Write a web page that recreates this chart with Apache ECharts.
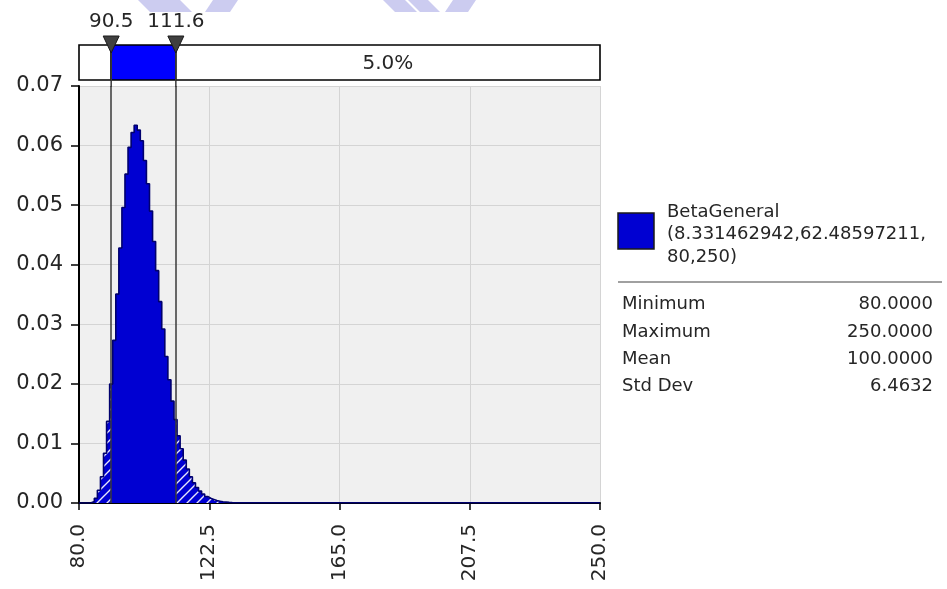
<!DOCTYPE html>
<html>
<head>
<meta charset="utf-8">
<style>
  html, body { margin: 0; padding: 0; background: #ffffff; }
  #chart { width: 947px; height: 589px; }
</style>
<script src="https://cdn.jsdelivr.net/npm/echarts@6/dist/echarts.min.js"></script>
</head>
<body>
<div id="chart"></div>
<script>
// ---------------- data ----------------
const binStarts = [80,81,82,83,84,85,86,87,88,89,90,91,92,93,94,95,96,97,98,99,100,
  101,102,103,104,105,106,107,108,109,110,111,112,113,114,115,116,117,118,119,120,
  121,122,123,124,125,126,127,128,129,130];
const density = [0,0,0,0.00005,0.00023,0.0008,0.00215,0.0044,0.00834,0.0137,0.01996,
  0.0273,0.03506,0.0428,0.0496,0.0552,0.0597,0.0622,0.0634,0.0626,0.0608,
  0.0575,0.0536,0.0490,0.0439,0.0390,0.0338,0.0292,0.0246,0.0207,0.0171,
  0.0140,0.0113,0.0091,0.0072,0.0057,0.0044,0.0034,0.0026,0.0020,0.0015,
  0.0011,0.0008,0.0006,0.0004,0.0003,0.0002,0.00015,0.0001,0.00007,0.00005];
const tailEnd = [250, 0];
const binWidth = 1;
const boundaries = [90.5, 111.6];
const segmentLabels = ['', '', '5.0%'];
const xMin = 80, xMax = 250, xInterval = 42.5;
const yMin = 0, yMax = 0.07, yInterval = 0.01;
const distName = 'BetaGeneral\n(8.331462942,62.48597211,\n80,250)';
const statNames = ['Minimum', 'Maximum', 'Mean', 'Std Dev'];
const statValues = ['80.0000', '250.0000', '100.0000', '6.4632'];

// ---------------- styling ----------------
const FONT = '"DejaVu Sans", Verdana, sans-serif';
const fillBlue = '#0000d2';
const barBlue = '#0000ff';
const outlineBlue = '#00006e';
const textColor = '#262626';

// hatch pattern for the tails
const pc = document.createElement('canvas');
pc.width = 10; pc.height = 10;
const pctx = pc.getContext('2d');
pctx.fillStyle = fillBlue;
pctx.fillRect(0, 0, 10, 10);
pctx.strokeStyle = 'rgba(255,255,255,0.9)';
pctx.lineWidth = 1.4;
pctx.beginPath();
pctx.moveTo(0, 10); pctx.lineTo(10, 0);
pctx.moveTo(-5, 5); pctx.lineTo(5, -5);
pctx.moveTo(5, 15); pctx.lineTo(15, 5);
pctx.stroke();
const hatch = { image: pc, repeat: 'repeat' };

const densityPoints = binStarts.map((x, i) => [x, density[i]]);
const outlinePoints = densityPoints.concat([tailEnd]);
const edges = [xMin].concat(boundaries, [xMax]);
const segments = [];
for (let i = 0; i < edges.length - 1; i++) segments.push([edges[i], edges[i + 1], i]);

const chart = echarts.init(document.getElementById('chart'), null, { renderer: 'canvas' });

const option = {
  backgroundColor: '#ffffff',
  animation: false,
  grid: [
    { left: 79, right: 347, top: 86, bottom: 86, show: true, backgroundColor: '#f0f0f0', borderWidth: 0 },
    { left: 79, right: 347, top: 45, height: 35 }
  ],
  xAxis: [
    {
      type: 'value', gridIndex: 0, min: xMin, max: xMax, interval: xInterval,
      axisLine: { show: true, onZero: false, lineStyle: { color: '#000', width: 2 } },
      axisTick: { show: true, length: 7, lineStyle: { color: '#000', width: 1.5 } },
      axisLabel: {
        rotate: 90, margin: 21, fontFamily: FONT, fontSize: 20, color: textColor,
        formatter: v => Number(v).toFixed(1)
      },
      splitLine: { show: true, lineStyle: { color: '#d4d4d4', width: 1 } }
    },
    { type: 'value', gridIndex: 1, min: xMin, max: xMax, show: false }
  ],
  yAxis: [
    {
      type: 'value', gridIndex: 0, min: yMin, max: yMax, interval: yInterval,
      axisLine: { show: true, onZero: false, lineStyle: { color: '#000', width: 2 } },
      axisTick: { show: true, length: 8, lineStyle: { color: '#000', width: 1.5 } },
      axisLabel: {
        margin: 16, fontFamily: FONT, fontSize: 21, color: textColor,
        formatter: v => Number(v).toFixed(2)
      },
      splitLine: { show: true, lineStyle: { color: '#d4d4d4', width: 1 } }
    },
    { type: 'value', gridIndex: 1, min: 0, max: 1, show: false }
  ],
  series: [
    {
      name: 'fill', type: 'custom', xAxisIndex: 0, yAxisIndex: 0, clip: true, z: 2,
      data: densityPoints,
      renderItem: function (params, api) {
        const x = api.value(0), v = api.value(1);
        const lo = x, hi = x + binWidth;
        const cuts = [lo].concat(boundaries.filter(b => b > lo && b < hi), [hi]);
        const children = [];
        for (let k = 0; k < cuts.length - 1; k++) {
          const a = cuts[k], b = cuts[k + 1];
          const mid = (a + b) / 2;
          const inside = mid >= boundaries[0] && mid <= boundaries[1];
          const p0 = api.coord([a, v]);
          const p1 = api.coord([b, 0]);
          const x0 = Math.round(p0[0]), x1 = Math.round(p1[0]);
          const y0 = Math.round(p0[1]), y1 = Math.round(p1[1]);
          children.push({
            type: 'rect',
            shape: { x: x0, y: y0, width: x1 - x0, height: y1 - y0 },
            style: { fill: inside ? fillBlue : hatch, stroke: null }
          });
        }
        return { type: 'group', children: children };
      }
    },
    {
      name: 'outline', type: 'line', xAxisIndex: 0, yAxisIndex: 0, z: 3,
      data: outlinePoints, step: 'end', symbol: 'none',
      lineStyle: { color: outlineBlue, width: 1.6 },
      markLine: {
        silent: true, symbol: ['none', 'none'], label: { show: false },
        lineStyle: { color: '#3a3a3a', width: 1.5, type: 'solid' },
        data: boundaries.map(b => ({ xAxis: b }))
      }
    },
    {
      name: 'rangeBar', type: 'custom', xAxisIndex: 1, yAxisIndex: 1, clip: false, z: 4,
      data: segments,
      renderItem: function (params, api) {
        const a = api.value(0), b = api.value(1), idx = api.value(2);
        const p0 = api.coord([a, 1]);
        const p1 = api.coord([b, 0]);
        const label = segmentLabels[idx];
        return {
          type: 'group',
          children: [
            {
              type: 'rect',
              shape: { x: p0[0], y: p0[1], width: p1[0] - p0[0], height: p1[1] - p0[1] },
              style: { fill: idx === 1 ? barBlue : '#ffffff', stroke: '#000', lineWidth: 1.6 }
            },
            {
              type: 'text',
              style: {
                text: label, x: (p0[0] + p1[0]) / 2, y: (p0[1] + p1[1]) / 2 + 1,
                align: 'center', verticalAlign: 'middle',
                font: '20px ' + FONT, fill: textColor
              }
            }
          ]
        };
      }
    },
    {
      name: 'markers', type: 'custom', xAxisIndex: 1, yAxisIndex: 1, clip: false, z: 5,
      data: boundaries.map(b => [b]),
      renderItem: function (params, api) {
        const x = api.value(0);
        const pt = api.coord([x, 1]);
        const pb = api.coord([x, 0]);
        return {
          type: 'group',
          children: [
            {
              type: 'line',
              shape: { x1: pt[0], y1: pt[1], x2: pt[0], y2: pb[1] + 7 },
              style: { stroke: '#3a3a3a', lineWidth: 1.5 }
            },
            {
              type: 'polygon',
              shape: { points: [[pt[0] - 8, pt[1] - 9], [pt[0] + 8, pt[1] - 9], [pt[0], pt[1] + 8]] },
              style: { fill: '#404040', stroke: '#1a1a1a', lineWidth: 1 }
            },
            {
              type: 'text',
              style: {
                text: x.toFixed(1), x: pt[0], y: pt[1] - 13,
                align: 'center', verticalAlign: 'bottom',
                font: '20px ' + FONT, fill: textColor
              }
            }
          ]
        };
      }
    }
  ],
  graphic: [
    // faint watermark fragments at the top edge
    { type: 'polygon', z: -10, silent: true, shape: { points: [[138,0],[162,0],[174,12],[150,12]] }, style: { fill: '#ccccf0' } },
    { type: 'polygon', z: -10, silent: true, shape: { points: [[160,0],[180,0],[192,12],[172,12]] }, style: { fill: '#ccccf0' } },
    { type: 'polygon', z: -10, silent: true, shape: { points: [[205,12],[230,12],[238,0],[213,0]] }, style: { fill: '#ccccf0' } },
    { type: 'polygon', z: -10, silent: true, shape: { points: [[383,0],[405,0],[417,12],[395,12]] }, style: { fill: '#ccccf0' } },
    { type: 'polygon', z: -10, silent: true, shape: { points: [[408,0],[428,0],[440,12],[420,12]] }, style: { fill: '#ccccf0' } },
    { type: 'polygon', z: -10, silent: true, shape: { points: [[445,12],[468,12],[476,0],[453,0]] }, style: { fill: '#ccccf0' } },
    // legend
    { type: 'rect', x: 618, y: 213, shape: { width: 36, height: 36 }, style: { fill: fillBlue, stroke: '#1a1a1a', lineWidth: 1.5 } },
    { type: 'text', x: 667, y: 201, style: { text: distName, font: '18px ' + FONT, fill: textColor, lineHeight: 22.5, verticalAlign: 'top' } },
    { type: 'line', shape: { x1: 618, y1: 282, x2: 942, y2: 282 }, style: { stroke: '#808080', lineWidth: 1.5 } },
    { type: 'text', x: 622, y: 291, style: { text: statNames.join('\n'), font: '18px ' + FONT, fill: textColor, lineHeight: 27.3, verticalAlign: 'top' } },
    { type: 'text', x: 933, y: 291, style: { text: statValues.join('\n'), font: '18px ' + FONT, fill: textColor, lineHeight: 27.3, align: 'right', verticalAlign: 'top' } }
  ]
};

chart.setOption(option);
</script>
</body>
</html>
